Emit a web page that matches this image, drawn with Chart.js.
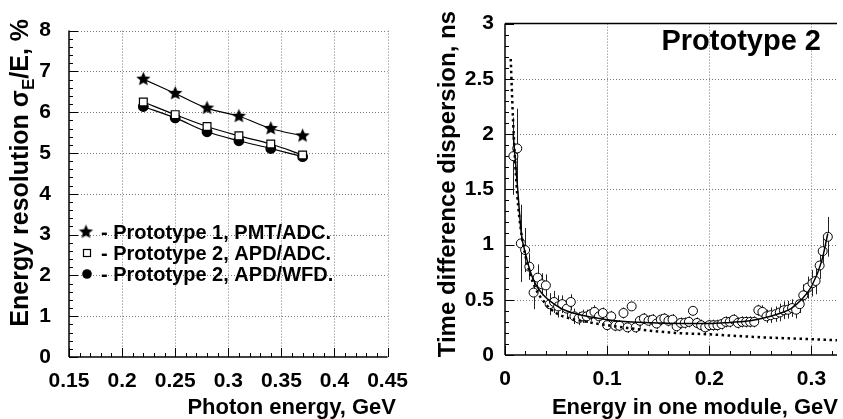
<!DOCTYPE html>
<html><head><meta charset="utf-8">
<script src="https://cdn.jsdelivr.net/npm/chart.js@4"></script>
<style>
html,body{margin:0;padding:0;background:#fff;width:843px;height:419px;overflow:hidden}
#c1{position:absolute;left:0;top:0}
#c2{position:absolute;left:420px;top:0}
</style></head><body>
<canvas id="c1" width="420" height="419"></canvas>
<canvas id="c2" width="423" height="419"></canvas>
<script>
// ---------- Left panel data ----------
const photonEnergy = [0.22, 0.25, 0.28, 0.31, 0.34, 0.37];
const resPMTADC   = [6.81, 6.46, 6.10, 5.90, 5.60, 5.42];
const resAPDADC   = [6.25, 5.94, 5.65, 5.42, 5.22, 4.95];
const resAPDWFD   = [6.14, 5.86, 5.52, 5.30, 5.11, 4.91];
const leftXTicks  = [0.15, 0.2, 0.25, 0.3, 0.35, 0.4, 0.45];
const leftXLabels = ['0.15','0.2','0.25','0.3','0.35','0.4','0.45'];
const leftYTicks  = [0,1,2,3,4,5,6,7,8];
const leftYLabels = ['0','1','2','3','4','5','6','7','8'];
const legendLabels = ['- Prototype 1, PMT/ADC.', '- Prototype 2, APD/ADC.', '- Prototype 2, APD/WFD.'];

// ---------- Right panel data ----------
const moduleEnergy = [0.0082,0.012,0.0155,0.0197,0.0238,0.028,0.032,0.036,0.040,0.0437,0.048,0.052,0.056,0.0605,0.0644,
 0.068,0.072,0.076,0.080,0.084,0.0876,0.092,0.0958,0.100,0.104,0.108,0.112,0.116,0.120,0.124,0.128,0.132,0.136,0.1405,
 0.1445,0.1484,0.1526,0.156,0.160,0.164,0.168,0.172,0.176,0.180,0.184,0.188,0.192,0.196,0.200,0.204,0.208,0.212,0.216,
 0.220,0.224,0.228,0.232,0.236,0.240,0.244,0.248,0.252,0.256,0.260,0.265,0.269,0.273,0.277,0.281,0.285,0.2885,0.292,
 0.2965,0.301,0.304,0.308,0.311,0.316];
const timeDispersion = [1.80,1.87,1.01,0.95,0.80,0.565,0.70,0.64,0.63,0.46,0.48,0.44,0.46,0.42,0.48,
 0.35,0.33,0.35,0.35,0.37,0.39,0.35,0.38,0.27,0.35,0.265,0.265,0.38,0.25,0.44,0.25,0.31,0.33,0.31,
 0.32,0.285,0.32,0.33,0.31,0.32,0.26,0.29,0.29,0.30,0.40,0.29,0.27,0.25,0.27,0.27,0.27,0.28,0.30,
 0.30,0.32,0.29,0.30,0.30,0.30,0.30,0.405,0.39,0.35,0.36,0.37,0.385,0.405,0.41,0.425,0.41,0.46,0.54,
 0.61,0.65,0.67,0.81,0.94,1.07];
const timeError = [0.35,0.36,0.35,0.20,0.12,0.15,0.12,0.10,0.10,0.10,0.10,0.10,0.08,0.08,0.07,
 0.07,0.06,0.06,0.06,0.06,0.06,0.06,0.05,0.05,0.05,0.05,0.05,0.05,0.05,0.04,0.05,0.05,0.05,0.05,
 0.05,0.05,0.05,0.05,0.05,0.05,0.05,0.05,0.05,0.05,0.04,0.05,0.05,0.05,0.05,0.05,0.05,0.05,0.05,
 0.05,0.05,0.05,0.05,0.05,0.05,0.05,0.05,0.06,0.06,0.07,0.07,0.08,0.08,0.08,0.08,0.08,0.08,0.10,
 0.10,0.12,0.12,0.12,0.12,0.18];
const fitE = [0.008,0.012,0.016,0.020,0.025,0.030,0.040,0.050,0.060,0.080,0.100,0.120,0.150,0.180,0.200,0.220,0.240,0.260,0.270,0.280,0.290,0.300,0.310,0.316];
const fitT = [2.00,1.55,1.10,0.92,0.75,0.64,0.52,0.45,0.40,0.35,0.32,0.30,0.29,0.285,0.285,0.295,0.31,0.35,0.38,0.42,0.50,0.62,0.85,1.10];
const dotE = [0.0056,0.008,0.012,0.016,0.020,0.025,0.030,0.040,0.050,0.060,0.080,0.100,0.120,0.142,0.167,0.200,0.245,0.280,0.325];
const dotT = [2.68,2.10,1.45,1.10,0.90,0.72,0.60,0.46,0.38,0.34,0.30,0.27,0.245,0.22,0.20,0.187,0.163,0.15,0.134];
const rightXTicks  = [0, 0.1, 0.2, 0.3];
const rightXLabels = ['0','0.1','0.2','0.3'];
const rightYTicks  = [0,0.5,1,1.5,2,2.5,3];
const rightYLabels = ['0','0.5','1','1.5','2','2.5','3'];

const FONT = '"Liberation Sans", Arial, Helvetica, sans-serif';

function pts(xs, ys){ return xs.map((x,i)=>({x:x, y:ys[i]})); }

function makeStar(r){
  const c=document.createElement('canvas'); const s=Math.ceil(r*2+2); c.width=s; c.height=s;
  const g=c.getContext('2d'); g.fillStyle='#000'; g.beginPath();
  for(let i=0;i<10;i++){ const a=-Math.PI/2+i*Math.PI/5; const rr=(i%2===0)?r:r*0.45;
    const px=s/2+rr*Math.cos(a), py=s/2+rr*Math.sin(a); if(i===0) g.moveTo(px,py); else g.lineTo(px,py);} 
  g.closePath(); g.fill(); return c;
}
const starImg = makeStar(7.5);

function frame(opts){
  return {
    id:'frame',
    beforeDatasetsDraw(chart){
      const {ctx, chartArea:a, scales:{x,y}} = chart;
      ctx.save();
      const L=(x1,y1,x2,y2)=>{ctx.beginPath();ctx.moveTo(x1,y1);ctx.lineTo(x2,y2);ctx.stroke();};
      // dotted grid
      ctx.strokeStyle='#7a7a7a'; ctx.lineWidth=1; ctx.setLineDash([1,2]);
      opts.xTicks.forEach(v=>{const p=Math.round(x.getPixelForValue(v))+0.5; if(p>a.left+2) L(p,a.top,p,a.bottom);});
      opts.yTicks.forEach(v=>{const p=Math.round(y.getPixelForValue(v))+0.5; if(p<a.bottom-2 && !(opts.top && p<a.top+2)) L(a.left,p,a.right,p);});
      ctx.setLineDash([]);
      // minor + major ticks (inward)
      ctx.strokeStyle='#000'; ctx.lineWidth=1;
      const nx=Math.round((opts.xMax-opts.xMin)/opts.xMinor);
      for(let i=0;i<=nx;i++){ const v=opts.xMin+i*opts.xMinor; const p=Math.round(x.getPixelForValue(v))+0.5; if(p>a.right+1) continue; L(p,a.bottom,p,a.bottom-4);} 
      const ny=Math.round((opts.yMax-opts.yMin)/opts.yMinor);
      for(let i=0;i<=ny;i++){ const v=opts.yMin+i*opts.yMinor; const p=Math.round(y.getPixelForValue(v))+0.5; L(a.left,p,a.left+4,p);} 
      opts.xTicks.forEach(v=>{const p=Math.round(x.getPixelForValue(v))+0.5; L(p,a.bottom,p,a.bottom-9);});
      opts.yTicks.forEach(v=>{const p=Math.round(y.getPixelForValue(v))+0.5; L(a.left,p,a.left+9,p);});
      // axes
      ctx.lineWidth=1.5;
      L(a.left,a.top,a.left,a.bottom); L(a.left,a.bottom,a.right,a.bottom);
      if(opts.top) L(a.left,a.top,a.right,a.top);
      // error bars
      if(opts.err){
        ctx.strokeStyle='#222'; ctx.lineWidth=1;
        opts.err.x.forEach((xv,i)=>{const px=Math.round(x.getPixelForValue(xv))+0.5;
          L(px, y.getPixelForValue(opts.err.y[i]+opts.err.e[i]), px, y.getPixelForValue(opts.err.y[i]-opts.err.e[i]));});
      }
      ctx.restore();
    },
    afterDraw(chart){
      const {ctx, chartArea:a} = chart;
      ctx.save(); ctx.fillStyle='#000';
      // x title (right aligned to axis end)
      ctx.font='bold 22px '+FONT; ctx.textAlign='right'; ctx.textBaseline='alphabetic';
      ctx.fillText(opts.xTitle, opts.xTitleX, opts.xTitleY);
      // y title rotated
      ctx.translate(opts.yTitleX, opts.yTitleTop); ctx.rotate(-Math.PI/2);
      ctx.textBaseline='alphabetic';
      const parts = opts.yTitleParts; const fs=opts.yTitleSize;
      const fnt=(p)=>(p.sub?('bold '+Math.round(fs*0.68)+'px '):('bold '+fs+'px '))+FONT;
      let total=0; parts.forEach(p=>{ctx.font=fnt(p); total+=ctx.measureText(p.t).width;});
      let cx=-total; ctx.textAlign='left';
      parts.forEach(p=>{ctx.font=fnt(p); ctx.fillText(p.t,cx,p.sub?6:0); cx+=ctx.measureText(p.t).width;});
      ctx.restore();
      if(opts.extra) opts.extra(ctx,a);
    }
  };
}

function axisCfg(min,max,ticks,labels,pad,isX){
  return {type:'linear', min:min, max:max,
    grid:{display:false, drawTicks:false}, border:{display:false},
    afterBuildTicks:(s)=>{ s.ticks = ticks.map(v=>({value:v})); },
    ticks:{color:'#000', padding:pad, autoSkip:false, maxRotation:0,
      font:{family:FONT, size:21, weight:'bold'},
      callback:(v,i)=>labels[i]},
    afterFit:(s)=>{ if(isX) s.height = isX; }
  };
}

// ---------- Left chart ----------
const leftY = axisCfg(0,8,leftYTicks,leftYLabels,18,false); leftY.afterFit=(s)=>{s.width=69;};
const leftX = axisCfg(0.15,0.45,leftXTicks,leftXLabels,12,62);
new Chart(document.getElementById('c1'),{
  type:'scatter',
  data:{datasets:[
    {data:pts(photonEnergy,resPMTADC), showLine:true, tension:0.35, borderColor:'#000', borderWidth:1.2,
      pointStyle:starImg, pointRadius:7, backgroundColor:'#000'},
    {data:pts(photonEnergy,resAPDADC), showLine:true, tension:0.35, borderColor:'#000', borderWidth:1.2,
      pointStyle:'rect', pointRadius:5.5, pointBackgroundColor:'#fff', pointBorderColor:'#000', pointBorderWidth:1.2},
    {data:pts(photonEnergy,resAPDWFD), showLine:true, tension:0.35, borderColor:'#000', borderWidth:1.2,
      pointStyle:'circle', pointRadius:4.8, pointBackgroundColor:'#000', pointBorderColor:'#000'}
  ]},
  options:{responsive:false, animation:false, devicePixelRatio:1,
    layout:{padding:{left:0,right:21,top:21,bottom:0}},
    plugins:{legend:{display:false}, tooltip:{enabled:false}},
    scales:{x:leftX, y:leftY}
  },
  plugins:[frame({xTicks:leftXTicks, yTicks:leftYTicks, xMin:0.15, xMax:0.45, xMinor:0.01, yMin:0, yMax:8, yMinor:0.2,
    top:false, xTitle:'Photon energy, GeV', xTitleX:396, xTitleY:414, yTitleX:28, yTitleTop:19, yTitleSize:25,
    yTitleParts:[{t:'Energy resolution σ'},{t:'E',sub:true},{t:'/E, %'}],
    extra:(ctx,a)=>{
      ctx.save(); ctx.fillStyle='#000'; ctx.font='bold 20px '+FONT; ctx.textBaseline='middle'; ctx.textAlign='left';
      const rows=[232,253,274];
      legendLabels.forEach((t,i)=>ctx.fillText(t,101,rows[i]+1));
      ctx.drawImage(starImg,86-starImg.width/2,rows[0]-starImg.height/2);
      ctx.lineWidth=1.2; ctx.strokeStyle='#000'; ctx.fillStyle='#fff'; ctx.fillRect(83,rows[1]-4,8,8); ctx.strokeRect(83.5,rows[1]-3.5,7,7);
      ctx.fillStyle='#000'; ctx.beginPath(); ctx.arc(87,rows[2],4.8,0,Math.PI*2); ctx.fill();
      ctx.restore();
    }})]
});

// ---------- Right chart ----------
const rightY = axisCfg(0,3,rightYTicks,rightYLabels,11,false); rightY.afterFit=(s)=>{s.width=85;};
const rightX = axisCfg(0,0.325,rightXTicks,rightXLabels,12,64);
new Chart(document.getElementById('c2'),{
  type:'scatter',
  data:{datasets:[
    {data:pts(fitE,fitT), showLine:true, tension:0.3, cubicInterpolationMode:'monotone', borderColor:'#000', borderWidth:1.5, pointRadius:0},
    {data:pts(dotE,dotT), showLine:true, tension:0.3, cubicInterpolationMode:'monotone', borderColor:'#000', borderWidth:2.5, borderDash:[2.5,3.5], pointRadius:0},
    {data:pts(moduleEnergy,timeDispersion), showLine:false, pointStyle:'circle', pointRadius:4.5,
      pointBackgroundColor:'#fff', pointBorderColor:'#000', pointBorderWidth:1}
  ]},
  options:{responsive:false, animation:false, devicePixelRatio:1,
    layout:{padding:{left:0,right:6,top:11,bottom:0}},
    plugins:{legend:{display:false}, tooltip:{enabled:false}},
    scales:{x:rightX, y:rightY}
  },
  plugins:[frame({xTicks:rightXTicks, yTicks:rightYTicks, xMin:0, xMax:0.32, xMinor:0.02, yMin:0, yMax:3, yMinor:0.1,
    top:true, xTitle:'Energy in one module, GeV', xTitleX:418, xTitleY:414, yTitleX:35, yTitleTop:11, yTitleSize:24,
    yTitleParts:[{t:'Time difference dispersion, ns'}],
    err:{x:moduleEnergy, y:timeDispersion, e:timeError},
    extra:(ctx,a)=>{
      ctx.save(); ctx.fillStyle='#000'; ctx.font='bold 29px '+FONT; ctx.textAlign='right'; ctx.textBaseline='alphabetic';
      ctx.fillText('Prototype 2', 401, 50); ctx.restore();
    }})]
});
</script>
</body></html>
